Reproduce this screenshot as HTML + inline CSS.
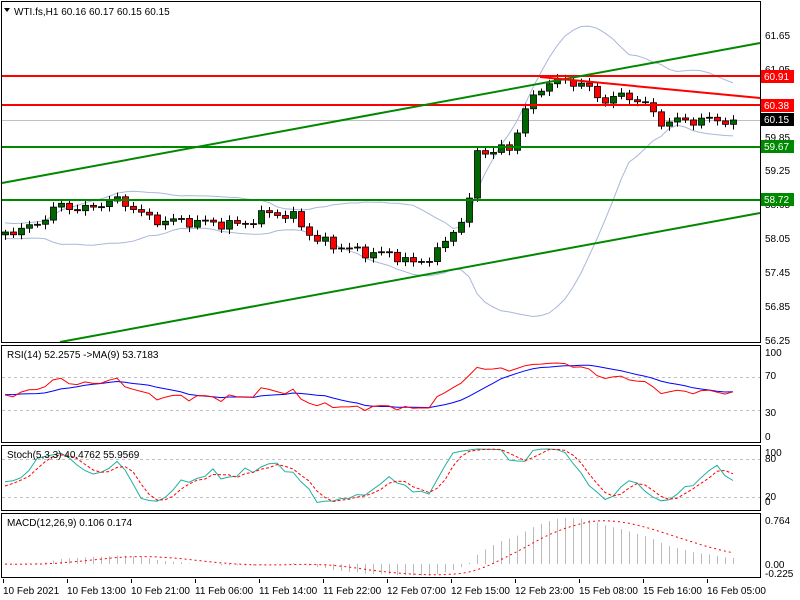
<!DOCTYPE html>
<html><head><meta charset="utf-8"><style>
html,body{margin:0;padding:0;background:#fff;}
svg{display:block;font-family:"Liberation Sans",sans-serif;font-size:10px;}
</style></head><body>
<svg id="s" width="800" height="600" xmlns="http://www.w3.org/2000/svg">
<rect width="800" height="600" fill="#fff"/>
<g id="g"></g>
<g fill="none" stroke="#000" stroke-width="1">
<rect x="1.5" y="1.5" width="759" height="341"/>
<rect x="1.5" y="345.5" width="759" height="97"/>
<rect x="1.5" y="445.5" width="759" height="65"/>
<rect x="1.5" y="513.5" width="759" height="64"/>
</g>
<g fill="#000">
<text x="14" y="15">WTI.fs,H1  60.16 60.17 60.15 60.15</text>
<path d="M4 8 L10 8 L7 12 Z"/>
<text x="7" y="358">RSI(14) 52.2575  -&gt;MA(9) 53.7183</text>
<text x="7" y="458">Stoch(5,3,3) 40.4762 55.9569</text>
<text x="7" y="526">MACD(12,26,9) 0.106 0.174</text>
<g font-size="10">
<text x="765" y="39">61.65</text>
<text x="765" y="73">61.05</text>
<text x="765" y="141">59.85</text>
<text x="765" y="174">59.25</text>
<text x="765" y="208">58.65</text>
<text x="765" y="242">58.05</text>
<text x="765" y="276">57.45</text>
<text x="765" y="310">56.85</text>
<text x="765" y="344">56.25</text>
<text x="765" y="356">100</text>
<text x="765" y="379">70</text>
<text x="765" y="416">30</text>
<text x="765" y="440">0</text>
<text x="765" y="456">100</text>
<text x="765" y="462">80</text>
<text x="765" y="500">20</text>
<text x="765" y="505">0</text>
<text x="765" y="524">0.764</text>
<text x="765" y="568">0.00</text>
<text x="765" y="577">-0.225</text>
</g>
<g font-size="10">
<text x="3" y="594">10 Feb 2021</text>
<text x="67" y="594">10 Feb 13:00</text>
<text x="131" y="594">10 Feb 21:00</text>
<text x="195" y="594">11 Feb 06:00</text>
<text x="259" y="594">11 Feb 14:00</text>
<text x="323" y="594">11 Feb 22:00</text>
<text x="387" y="594">12 Feb 07:00</text>
<text x="451" y="594">12 Feb 15:00</text>
<text x="515" y="594">12 Feb 23:00</text>
<text x="579" y="594">15 Feb 08:00</text>
<text x="643" y="594">15 Feb 16:00</text>
<text x="707" y="594">16 Feb 05:00</text>
</g>
</g>
<g stroke="#000">
<line x1="3.5" y1="579" x2="3.5" y2="583"/><line x1="67.5" y1="579" x2="67.5" y2="583"/><line x1="131.5" y1="579" x2="131.5" y2="583"/><line x1="195.5" y1="579" x2="195.5" y2="583"/><line x1="259.5" y1="579" x2="259.5" y2="583"/><line x1="323.5" y1="579" x2="323.5" y2="583"/><line x1="387.5" y1="579" x2="387.5" y2="583"/><line x1="451.5" y1="579" x2="451.5" y2="583"/><line x1="515.5" y1="579" x2="515.5" y2="583"/><line x1="579.5" y1="579" x2="579.5" y2="583"/><line x1="643.5" y1="579" x2="643.5" y2="583"/><line x1="707.5" y1="579" x2="707.5" y2="583"/>
</g>
<rect x="761" y="70" width="33" height="13" fill="#f00"/><text x="764" y="80" fill="#fff">60.91</text>
<rect x="761" y="99" width="33" height="13" fill="#f00"/><text x="764" y="109" fill="#fff">60.38</text>
<rect x="761" y="113" width="33" height="13" fill="#000"/><text x="764" y="123" fill="#fff">60.15</text>
<rect x="761" y="140" width="33" height="13" fill="#080"/><text x="764" y="150" fill="#fff">59.67</text>
<rect x="761" y="193" width="33" height="13" fill="#080"/><text x="764" y="203" fill="#fff">58.72</text>
</svg>
<script>
var g=document.getElementById('g'),h='';
function Y(p){return 35+(61.65-p)*56.67;}
function P(y){return 61.65-(y-35)/56.67;}
var kp=[[5,232],[30,228],[60,205],[85,210],[110,200],[130,205],[150,220],[200,222],[240,225],[270,212],[295,218],[315,240],[360,252],[395,255],[415,265],[440,250],[460,220],[468,212],[475,150],[490,152],[510,148],[525,110],[545,82],[580,82],[600,100],[625,96],[640,100],[660,122],[700,120],[735,120]];
function interp(x){for(var i=0;i<kp.length-1;i++){if(x<=kp[i+1][0]){var a=kp[i],b=kp[i+1],t=(x-a[0])/(b[0]-a[0]);return a[1]+t*(b[1]-a[1]);}}return kp[kp.length-1][1];}
var N=92,C=[],X=[];
for(var i=0;i<N;i++){var x=5+i*8;X.push(x);C.push(P(interp(x)+4*Math.sin(i*1.7)+2*Math.sin(i*3.1)));}
C[N-1]=60.15;
var W=40,all=[];for(i=0;i<W;i++)all.push(58.2+0.1*Math.sin(i*1.3));all=all.concat(C);
function line(pts,c,extra){return '<polyline fill="none" stroke="'+c+'" '+(extra||'')+' points="'+pts.map(function(p){return p[0].toFixed(1)+','+p[1].toFixed(1)}).join(' ')+'"/>';}
var bu=[],bl=[];
for(i=0;i<N;i++){var k=i+W,s=0,q=0;for(var j=k-19;j<=k;j++){s+=all[j];}var m=s/20;for(j=k-19;j<=k;j++)q+=(all[j]-m)*(all[j]-m);var sd=Math.sqrt(q/20);bu.push([X[i],Y(m+2*sd)]);bl.push([X[i],Y(m-2*sd)]);}
h+=line(bu,'#a8b8d8')+line(bl,'#a8b8d8');
h+='<line x1="2" y1="120.5" x2="760" y2="120.5" stroke="#c0c0c0"/>';
for(i=0;i<N;i++){var o=i?C[i-1]:C[i]-0.05,c=C[i],hi=Math.max(o,c)+0.04+0.05*Math.abs(Math.sin(i*2.3)),lo=Math.min(o,c)-0.04-0.05*Math.abs(Math.cos(i*1.9));var x=X[i];
h+='<line x1="'+(x+0.5)+'" y1="'+Y(hi)+'" x2="'+(x+0.5)+'" y2="'+Y(lo)+'" stroke="#000"/>';
var t=Math.min(Y(o),Y(c)),bh=Math.max(1,Math.abs(Y(o)-Y(c)));
h+='<rect x="'+(x-2.5)+'" y="'+t+'" width="6" height="'+bh+'" fill="'+(c>=o?'#060':'#f00')+'" stroke="#000" stroke-width="0.8"/>';}
h+='<line x1="2" y1="76" x2="760" y2="76" stroke="#f00" stroke-width="2"/>';
h+='<line x1="2" y1="105" x2="760" y2="105" stroke="#f00" stroke-width="2"/>';
h+='<line x1="2" y1="147" x2="760" y2="147" stroke="#080" stroke-width="2"/>';
h+='<line x1="2" y1="200" x2="760" y2="200" stroke="#080" stroke-width="2"/>';
h+='<line x1="2" y1="183" x2="760" y2="43" stroke="#080" stroke-width="2"/>';
h+='<line x1="60" y1="342" x2="760" y2="213" stroke="#080" stroke-width="2"/>';
h+='<line x1="540" y1="77" x2="760" y2="98" stroke="#f00" stroke-width="2"/>';
var ag=0,al=0;for(i=1;i<=14;i++){var d=all[i]-all[i-1];if(d>0)ag+=d;else al-=d;}ag/=14;al/=14;
var rsiAll=[];for(i=0;i<all.length;i++){if(i>14){var d=all[i]-all[i-1];ag=(ag*13+Math.max(d,0))/14;al=(al*13+Math.max(-d,0))/14;}rsiAll.push(al==0?100:100-100/(1+ag/al));}
function RY(v){return 436-v*0.84;}
var r1=[],r2=[];for(i=0;i<N;i++){var k=i+W;r1.push([X[i],RY(rsiAll[k])]);var s=0;for(var j=k-8;j<=k;j++)s+=rsiAll[j];r2.push([X[i],RY(s/9)]);}
h+='<line x1="2" y1="377.5" x2="760" y2="377.5" stroke="#c0c0c0" stroke-dasharray="3,3"/><line x1="2" y1="410.5" x2="760" y2="410.5" stroke="#c0c0c0" stroke-dasharray="3,3"/>';
h+=line(r2,'#00f')+line(r1,'#f00');
var kr=[];for(i=0;i<all.length;i++){var lo=1e9,hi=-1e9;for(j=Math.max(0,i-4);j<=i;j++){lo=Math.min(lo,all[j]-0.05);hi=Math.max(hi,all[j]+0.05);}kr.push((all[i]-lo)/(hi-lo)*100);}
var ks=[];for(i=0;i<all.length;i++){var s=0,n=0;for(j=Math.max(0,i-2);j<=i;j++){s+=kr[j];n++;}ks.push(s/n);}
var ds=[];for(i=0;i<all.length;i++){var s=0,n=0;for(j=Math.max(0,i-2);j<=i;j++){s+=ks[j];n++;}ds.push(s/n);}
function SY(v){return 509-v*0.63;}
var s1=[],s2=[];for(i=0;i<N;i++){s1.push([X[i],SY(ks[i+W])]);s2.push([X[i],SY(ds[i+W])]);}
h+='<line x1="2" y1="459.5" x2="760" y2="459.5" stroke="#c0c0c0" stroke-dasharray="3,3"/><line x1="2" y1="497.5" x2="760" y2="497.5" stroke="#c0c0c0" stroke-dasharray="3,3"/>';
h+=line(s1,'#20b0a0')+line(s2,'#f00','stroke-dasharray="3,2"');
function ema(a,n){var r=[a[0]],k=2/(n+1);for(var i=1;i<a.length;i++)r.push(a[i]*k+r[i-1]*(1-k));return r;}
var e12=ema(all,12),e26=ema(all,26),md=all.map(function(v,i){return e12[i]-e26[i]});var sg=[];for(i=0;i<md.length;i++){var s=0,n=0;for(j=Math.max(0,i-8);j<=i;j++){s+=md[j];n++;}sg.push(s/n);}
var mx=0;for(i=W;i<all.length;i++)mx=Math.max(mx,md[i]);var sc=46/mx;
var sp=[];for(i=0;i<N;i++){var k=i+W;h+='<line x1="'+(X[i]+0.5)+'" y1="564" x2="'+(X[i]+0.5)+'" y2="'+(564-md[k]*sc)+'" stroke="#bbb"/>';sp.push([X[i],564-sg[k]*sc]);}
h+=line(sp,'#f00','stroke-dasharray="2,3"');
g.innerHTML=h;
</script>
</body></html>
